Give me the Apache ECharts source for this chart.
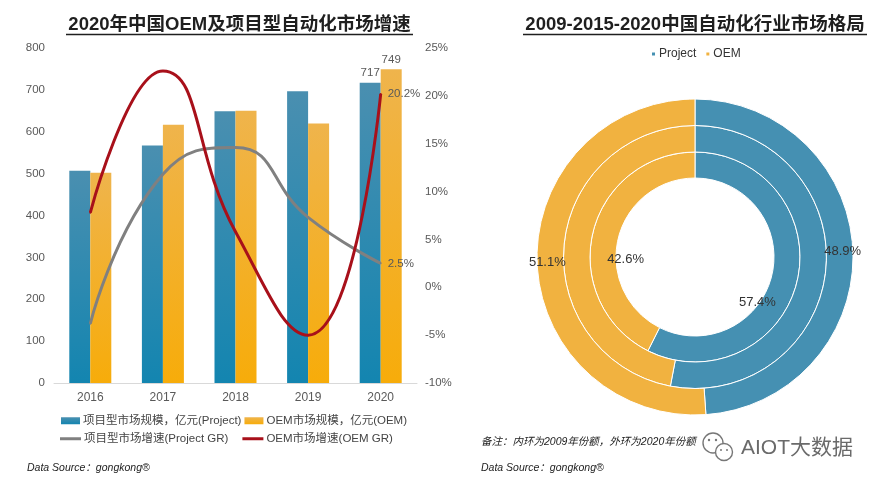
<!DOCTYPE html>
<html>
<head>
<meta charset="utf-8">
<script src="https://cdn.jsdelivr.net/npm/echarts@6/dist/echarts.min.js"></script>
<style>
html,body{margin:0;padding:0;background:#fff;}
#c{width:883px;height:489px;}
</style>
</head>
<body>
<div id="c"></div>
<script>
// ---- data ----
const years = ['2016', '2017', '2018', '2019', '2020'];
const projectSize = [507, 567, 649, 697, 717];
const oemSize = [502, 617, 650, 620, 749];
const projectGR = [-3.8, 11.8, 14.6, 7.3, 2.5];
const oemGR = [7.8, 22.6, 5.8, -5.0, 20.2];
const leftTicks = { min: 0, max: 800, interval: 100 };
const rightTicks = { min: -10, max: 25, interval: 5 };
const shareNames = ['Project', 'OEM'];
const share2009 = [57.4, 42.6];
const share2015 = [53.0, 47.0];
const share2020 = [48.9, 51.1];

const FONT = '"Liberation Sans", Arial, "Noto Sans CJK SC", sans-serif';
const titleLeft = '2020年中国OEM及项目型自动化市场增速';
const titleRight = '2009-2015-2020中国自动化行业市场格局';
const TITLE_SIZE = 18.5;

const blueGrad = new echarts.graphic.LinearGradient(0, 0, 0, 1, [
  { offset: 0, color: '#4a8fb0' }, { offset: 1, color: '#1385b0' }]);
const orangeGrad = new echarts.graphic.LinearGradient(0, 0, 0, 1, [
  { offset: 0, color: '#efb44c' }, { offset: 1, color: '#f7ac0a' }]);
const pieBlue = '#4590b2';
const pieOrange = '#f1b240';

const chart = echarts.init(document.getElementById('c'), null, { renderer: 'canvas' });

const lastLabel = (fmt) => ({
  show: true,
  formatter: (p) => p.dataIndex === years.length - 1 ? fmt(p.value) : '',
});

const lCx = 239.5, rCx = 695, ulY = 34.5;

const labelPos = {
  2009: [[-30, 24], [23, 24]],
};

const option = {
  animation: false,
  textStyle: { fontFamily: FONT },
  title: [
    { text: titleLeft, left: lCx, top: 16, textAlign: 'center', padding: 0,
      textStyle: { fontSize: TITLE_SIZE, fontWeight: 'bold', color: '#1f1f1f', fontFamily: FONT } },
    { text: titleRight, left: rCx, top: 16, textAlign: 'center', padding: 0,
      textStyle: { fontSize: TITLE_SIZE, fontWeight: 'bold', color: '#1f1f1f', fontFamily: FONT } },
  ],
  graphic: [
    { type: 'line', shape: { x1: 66, y1: ulY, x2: 413, y2: ulY }, style: { stroke: '#1f1f1f', lineWidth: 1.3 } },
    { type: 'line', shape: { x1: 523, y1: ulY, x2: 867, y2: ulY }, style: { stroke: '#1f1f1f', lineWidth: 1.3 } },
    { type: 'text', left: 27, top: 463, style: { text: 'Data Source：gongkong®', font: 'italic 10.5px ' + FONT, fill: '#222' } },
    { type: 'text', left: 481, top: 463, style: { text: 'Data Source：gongkong®', font: 'italic 10.5px ' + FONT, fill: '#222' } },
    { type: 'text', left: 481, top: 437, style: { text: '备注：内环为2009年份额，外环为2020年份额', font: 'italic 10.5px ' + FONT, fill: '#222' } },
    { type: 'text', left: 741, top: 438, style: { text: 'AIOT大数据', font: '21px ' + FONT, fill: '#6a6a6a' } },
    { type: 'circle', shape: { cx: 713, cy: 443, r: 10 }, style: { fill: '#fff', stroke: '#777', lineWidth: 1.4 } },
    { type: 'circle', shape: { cx: 724, cy: 452, r: 8.5 }, style: { fill: '#fff', stroke: '#777', lineWidth: 1.4 } },
    { type: 'circle', shape: { cx: 709, cy: 440, r: 1.2 }, style: { fill: '#777' } },
    { type: 'circle', shape: { cx: 716, cy: 440, r: 1.2 }, style: { fill: '#777' } },
    { type: 'circle', shape: { cx: 721, cy: 450, r: 1 }, style: { fill: '#777' } },
    { type: 'circle', shape: { cx: 727, cy: 450, r: 1 }, style: { fill: '#777' } },
  ],
  legend: [
    { left: 61, top: 415, padding: 0, itemGap: 3, itemWidth: 19, itemHeight: 7, icon: 'rect',
      data: ['项目型市场规模，亿元(Project)', 'OEM市场规模，亿元(OEM)'],
      textStyle: { fontSize: 11.5, color: '#444', fontFamily: FONT, padding: [0, 0, 0, -2] } },
    { left: 60, top: 433, padding: 0, itemGap: 14, itemWidth: 21, itemHeight: 3, icon: 'rect',
      data: ['项目型市场增速(Project GR)', 'OEM市场增速(OEM GR)'],
      textStyle: { fontSize: 11.5, color: '#444', fontFamily: FONT, padding: [0, 0, 0, -2] } },
    { left: 650, top: 48, padding: 0, itemGap: 8, itemWidth: 5, itemHeight: 5, icon: 'rect',
      data: shareNames,
      textStyle: { fontSize: 12, color: '#333', fontFamily: FONT, padding: [0, 0, 0, -2] } },
  ],
  grid: { left: 54, right: 466, top: 48, bottom: 106 },
  xAxis: {
    type: 'category', data: years,
    axisLine: { lineStyle: { color: '#d9d9d9' } },
    axisTick: { show: false },
    axisLabel: { color: '#595959', fontSize: 12, margin: 9 },
  },
  yAxis: [
    { type: 'value', ...leftTicks,
      axisLine: { show: false }, axisTick: { show: false }, splitLine: { show: false },
      axisLabel: { color: '#595959', fontSize: 11.5, margin: 9 } },
    { type: 'value', ...rightTicks,
      axisLine: { show: false }, axisTick: { show: false }, splitLine: { show: false },
      axisLabel: { color: '#595959', fontSize: 11.5, margin: 8, formatter: '{value}%' } },
  ],
  series: [
    { name: '项目型市场规模，亿元(Project)', type: 'bar', data: projectSize,
      barWidth: 21, barGap: '0%', itemStyle: { color: blueGrad },
      label: { ...lastLabel(v => v), position: 'top', color: '#595959', fontSize: 11.5, distance: 4 } },
    { name: 'OEM市场规模，亿元(OEM)', type: 'bar', data: oemSize,
      barWidth: 21, itemStyle: { color: orangeGrad },
      label: { ...lastLabel(v => v), position: 'top', color: '#595959', fontSize: 11.5, distance: 4 } },
    { name: '项目型市场增速(Project GR)', type: 'line', yAxisIndex: 1, data: projectGR,
      smooth: 0.5, symbol: 'circle', symbolSize: 2, showSymbol: true,
      lineStyle: { color: '#808080', width: 3 }, itemStyle: { color: '#808080' },
      label: { ...lastLabel(v => v + '%'), position: 'right', color: '#595959', fontSize: 11.5, distance: 6 } },
    { name: 'OEM市场增速(OEM GR)', type: 'line', yAxisIndex: 1, data: oemGR,
      smooth: 0.5, symbol: 'circle', symbolSize: 2, showSymbol: true,
      lineStyle: { color: '#a8101a', width: 3 }, itemStyle: { color: '#a8101a' },
      label: { ...lastLabel(v => v + '%'), position: 'right', color: '#595959', fontSize: 11.5, distance: 6 } },
    // donut rings
    { name: '2009', type: 'pie', center: [695, 257], radius: [79, 105], clockwise: true, startAngle: 90,
      itemStyle: { borderColor: '#fff', borderWidth: 1 },
      color: [pieBlue, pieOrange],
      label: { show: true, position: 'inside', formatter: '{c}%', color: '#333', fontSize: 13 },
      labelLine: { show: false },
      labelLayout: (p) => ({ dx: labelPos[2009][p.dataIndex][0], dy: labelPos[2009][p.dataIndex][1] }),
      data: shareNames.map((n, i) => ({ name: n, value: share2009[i] })) },
    { name: '2015', type: 'pie', center: [695, 257], radius: [105, 131.5], clockwise: true, startAngle: 90,
      itemStyle: { borderColor: '#fff', borderWidth: 1 },
      color: [pieBlue, pieOrange],
      label: { show: false }, labelLine: { show: false },
      data: shareNames.map((n, i) => ({ name: n, value: share2015[i] })) },
    { name: '2020', type: 'pie', center: [695, 257], radius: [131.5, 158], clockwise: true, startAngle: 90,
      itemStyle: { borderColor: '#fff', borderWidth: 1 },
      color: [pieBlue, pieOrange],
      label: { show: true, position: 'inside', formatter: '{c}%', color: '#333', fontSize: 13 },
      labelLine: { show: false },
      data: shareNames.map((n, i) => ({ name: n, value: share2020[i] })) },
  ],
};
chart.setOption(option);
</script>
</body>
</html>
